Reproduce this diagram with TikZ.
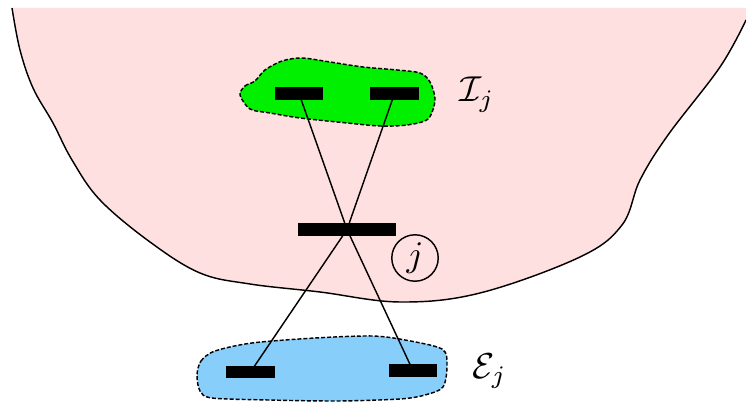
\documentclass[tikz,border=0pt]{standalone}
\usetikzlibrary{shapes.geometric}
\definecolor{pinkc}{RGB}{255,224,224}
\definecolor{greenc}{RGB}{0,240,0}
\definecolor{bluec}{RGB}{135,206,250}
\tikzset{
  bar/.style={fill=black, inner sep=0pt, minimum height=3.6pt, minimum width=13.4pt},
  longbar/.style={bar, minimum width=27.2pt},
  blob/.style={draw=black, dash pattern=on 1.1pt off 0.55pt},
  lbl/.style={inner sep=0pt, anchor=base west},
  circ/.style={draw, circle, inner sep=0pt, minimum size=12.9pt}
}
\def\pinkcurve{(12,8) (20,50) (33,88) (53,123) (72,160) (100,200) (150,242) (200,273) (250,284) (320,292) (400,302) (480,293) (580,257) (622,225) (640,180) (668,135) (720,67) (746,20)}
\begin{document}
\begin{tikzpicture}[x=0.27778pt,y=-0.27778pt]
\useasboundingbox (0,0) rectangle (746,402);
% pink region
\fill[pinkc] plot[smooth, tension=0.6] coordinates {\pinkcurve} -- (746,8) -- cycle;
\draw plot[smooth, tension=0.6] coordinates {\pinkcurve};
% green blob
\filldraw[blob, fill=greenc] plot[smooth cycle] coordinates {(240,95) (245,86) (255,81) (265,70) (282,61) (302,58) (330,62) (363,67) (397,70) (420,73) (430,82) (435,100) (428,119) (407,125) (380,126) (347,123) (300,118) (270,113) (250,109)};
% blue blob
\filldraw[blob, fill=bluec] plot[smooth cycle] coordinates {(197,375) (201,361) (215,351) (252,343) (315,338) (372,336) (405,340) (442,349) (447,365) (443,387) (425,395) (400,399) (338,401) (268,400) (212,398) (200,391)};
% nodes
\node[bar] (I1) at (299,93.5) {};
\node[bar] (I2) at (394.5,93.5) {};
\node[longbar] (J) at (347,229.5) {};
\node[bar] (E1) at (250.5,372) {};
\node[bar] (E2) at (413,370.8) {};
\node[circ] (jc) at (415,258) {$j$};
\node[lbl] (Il) at (459,101.7) {$\mathcal{I}_j$};
\node[lbl] (El) at (472,378) {$\mathcal{E}_j$};
% connectors
\draw (I1.center) -- (J.center) -- (E2.center);
\draw (I2.center) -- (J.center) -- (E1.center);
\end{tikzpicture}
\end{document}
